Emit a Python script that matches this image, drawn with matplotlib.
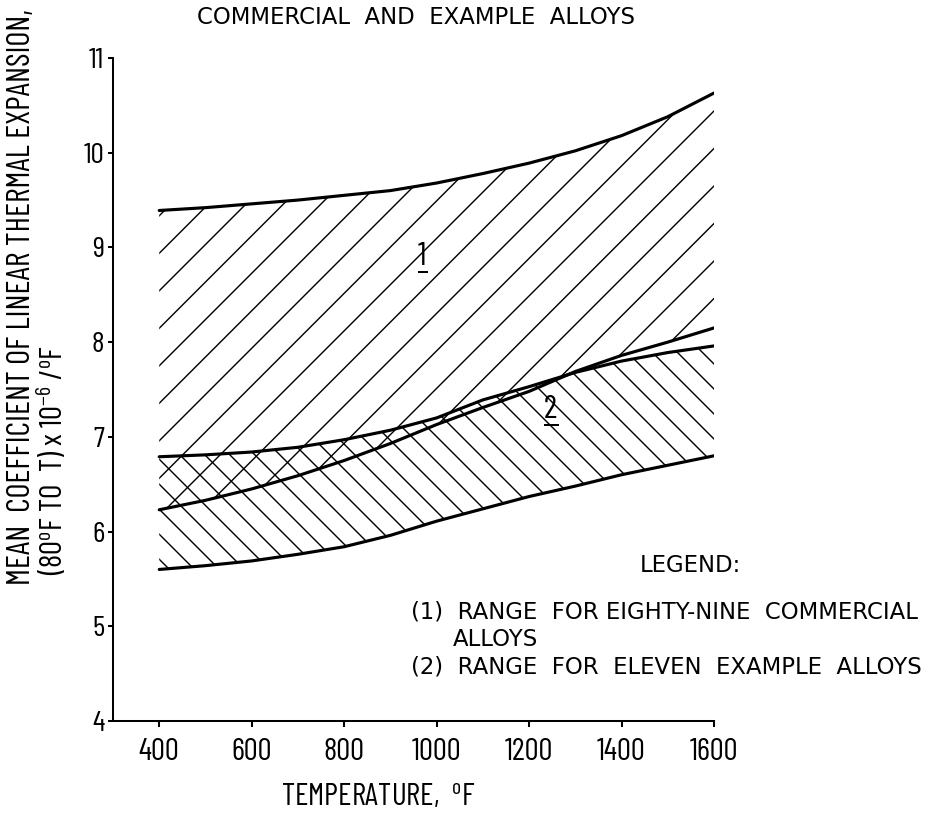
import matplotlib
matplotlib.use("Agg")
import matplotlib.pyplot as plt

temps = [400, 500, 600, 700, 800, 900, 1000, 1100, 1200, 1300, 1400, 1500, 1600]
upper_1 = [9.39, 9.42, 9.46, 9.50, 9.55, 9.60, 9.68, 9.78, 9.89, 10.02, 10.18, 10.38, 10.63]
lower_1 = [6.23, 6.33, 6.45, 6.59, 6.75, 6.93, 7.13, 7.31, 7.48, 7.69, 7.86, 8.00, 8.15]
upper_2 = [6.79, 6.81, 6.84, 6.89, 6.97, 7.07, 7.20, 7.39, 7.53, 7.68, 7.80, 7.89, 7.96]
lower_2 = [5.60, 5.64, 5.69, 5.76, 5.84, 5.96, 6.11, 6.24, 6.37, 6.48, 6.60, 6.70, 6.80]

xticks = [400, 600, 800, 1000, 1200, 1400, 1600]
yticks = [4, 5, 6, 7, 8, 9, 10, 11]

title = 'COMMERCIAL  AND  EXAMPLE  ALLOYS'
xlabel = r'TEMPERATURE,  $^{\mathrm{o}}$F'
ylabel_1 = 'MEAN  COEFFICIENT OF LINEAR THERMAL EXPANSION,'
ylabel_2 = r'(80$^{\mathrm{o}}$F TO  T) x 10$^{-6}$ /$^{\mathrm{o}}$F'
legend_lines = ['(1)  RANGE  FOR EIGHTY-NINE  COMMERCIAL', 'ALLOYS',
                '(2)  RANGE  FOR  ELEVEN  EXAMPLE  ALLOYS']
region_labels = [('1', 968, 8.94), ('2', 1247, 7.32)]

DPI = 225
COND = 'Barlow Condensed'
plt.rcParams['hatch.linewidth'] = 0.45
plt.rcParams['font.family'] = ['DejaVu Sans']
plt.rcParams['mathtext.fontset'] = 'custom'
plt.rcParams['mathtext.rm'] = COND
plt.rcParams['mathtext.it'] = COND
plt.rcParams['mathtext.bf'] = COND

fig = plt.figure(figsize=(936 / DPI, 815 / DPI), dpi=DPI)
ax = fig.add_axes([113 / 936, 1 - 721 / 815, (714 - 113) / 936, (721 - 58) / 815])

ax.fill_between(temps, lower_1, upper_1, facecolor='none', edgecolor='black',
                hatch='//', linewidth=0)
ax.fill_between(temps, lower_2, upper_2, facecolor='none', edgecolor='black',
                hatch='\\\\\\', linewidth=0)
for s in (upper_1, lower_1, upper_2, lower_2):
    ax.plot(temps, s, color='black', lw=1.0, solid_capstyle='round')

ax.set_xlim(300, 1600)
ax.set_ylim(4, 11)
ax.spines['top'].set_visible(False)
ax.spines['right'].set_visible(False)
for sp in ('left', 'bottom'):
    ax.spines[sp].set_linewidth(0.65)
ax.set_xticks(xticks)
ax.set_yticks(yticks)
ax.set_xticklabels([str(v) for v in xticks], fontsize=10, family=COND)
ax.set_yticklabels([str(v) for v in yticks], fontsize=9.5, family=COND)
ax.tick_params(axis='x', direction='out', length=1.8, width=0.65, pad=3.5)
ax.tick_params(axis='y', direction='out', length=1.6, width=0.65, pad=1.2)

for lab, x, y in region_labels:
    ax.text(x, y, r'$\dfrac{%s}{\,}$' % lab, fontsize=10.5, ha='center', va='top')

fig.text(378 / 936, 1 - 798 / 815, xlabel, fontsize=10, family=COND,
         ha='center', va='center')
fig.text(22 / 936, 1 - 585 / 815, ylabel_1, rotation=90, fontsize=10.4, family=COND,
         ha='center', va='bottom')
fig.text(52 / 936, 1 - 575 / 815, ylabel_2, rotation=90, fontsize=10, family=COND,
         ha='center', va='bottom')

fig.text(416 / 936, 1 - 17 / 815, title, fontsize=7.3, ha='center', va='center')
fig.text(690 / 936, 1 - 565 / 815, 'LEGEND:', fontsize=7.3, ha='center', va='center')
fig.text(411 / 936, 1 - 612 / 815, legend_lines[0], fontsize=7.3, ha='left', va='center')
fig.text(453 / 936, 1 - 640 / 815, legend_lines[1], fontsize=7.3, ha='left', va='center')
fig.text(411 / 936, 1 - 667 / 815, legend_lines[2], fontsize=7.3, ha='left', va='center')

fig.savefig('out.png', dpi=DPI)
